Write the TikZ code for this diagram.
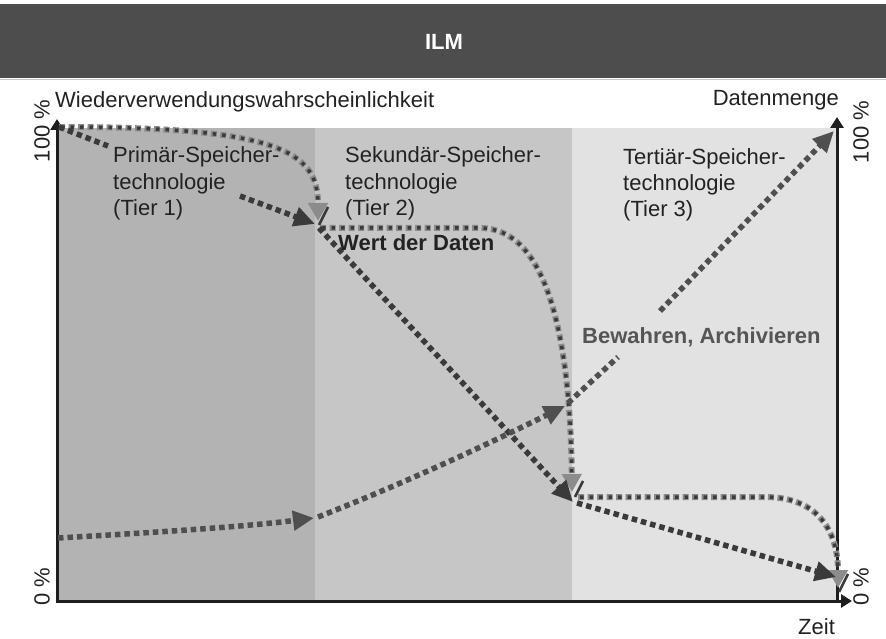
\documentclass[tikz,border=0pt]{standalone}
\usepackage{fontspec}
\setmainfont{Liberation Sans}
\usetikzlibrary{arrows.meta}
\definecolor{titlebg}{HTML}{4D4D4D}
\definecolor{regA}{HTML}{B3B3B3}
\definecolor{regB}{HTML}{C6C6C6}
\definecolor{regC}{HTML}{E2E2E2}
\definecolor{darkline}{HTML}{3A3A3A}
\definecolor{bewline}{HTML}{4F4F4F}
\definecolor{graymid}{HTML}{8A8A8A}
\definecolor{grayarrow}{HTML}{8C8C8C}
\definecolor{axiscol}{HTML}{1E1E1E}
\definecolor{labeltext}{HTML}{222222}
\definecolor{bewtext}{HTML}{555555}
\tikzset{axtip/.tip={Triangle[length=11pt,width=13pt]}}
\begin{document}
\begin{tikzpicture}[x=1pt,y=-1pt,
  lbl/.style={font=\fontsize{22}{26}\selectfont, text=labeltext, inner sep=0pt},
  boldlbl/.style={font=\bfseries\fontsize{22}{26}\selectfont, text=labeltext, inner sep=0pt},
  axisline/.style={draw=axiscol, line width=3pt},
  darkdots/.style={draw=darkline, line width=5.5pt, dash pattern=on 5.5pt off 4pt},
  bewdots/.style={draw=bewline, line width=5.5pt, dash pattern=on 5.5pt off 4pt},
  graydots/.style={draw=graymid, line width=6pt, dash pattern=on 6pt off 3.5pt,
    postaction={draw=darkline, line width=3.5pt, dash pattern=on 3.5pt off 6pt, dash phase=7.5pt, -, shorten >=17pt}},
  darktip/.style={-{Triangle[length=21pt,width=19pt,color=darkline]}},
  bewtip/.style={-{Triangle[length=21pt,width=19pt,color=bewline]}},
  graytip/.style={-{Triangle[length=18pt,width=19pt,color=grayarrow]}},
  shade/.style={draw=darkline, line width=2.5pt}
]
\useasboundingbox (0,0) rectangle (886,639);
\fill[white] (0,0) rectangle (886,639);
% title bar
\fill[titlebg] (0,4) rectangle (886,78);
\draw[regB, line width=1.5pt] (0,79.5) -- (886,79.5);
\node[font=\bfseries\fontsize{22}{26}\selectfont, text=white] (title) at (444,42) {ILM};
% regions
\fill[regA] (57,128) rectangle (315,601);
\fill[regB] (315,128) rectangle (572,601);
\fill[regC] (572,128) rectangle (837,601);
% axes
\coordinate (o) at (57,601);
\coordinate (ytop) at (57,119);
\coordinate (xend) at (852,601);
\coordinate (rbot) at (837,601);
\coordinate (rtop) at (837,117);
\draw[axisline, axtip-axtip] (ytop) -- (o) -- (xend);
\draw[axisline, -axtip] (rbot) -- (rtop);
% key points
\coordinate (p0) at (59,127);
\coordinate (p2) at (573,502);
\coordinate (p3) at (836,577);
% gray curves
\draw[graydots, graytip] (p0) .. controls (275,127) and (318,150) .. (318,221);
\draw[graydots, graytip] (320,228) -- (480,228) .. controls (545,228) and (570,330) .. (572,492);
\draw[graydots, graytip] (578,497) -- (765,497) .. controls (825,497) and (838,540) .. (838,588);
% arrow shadows
\coordinate (s1a) at (328,207); \coordinate (s1b) at (319,225);
\coordinate (s2a) at (583,481); \coordinate (s2b) at (575,497);
\coordinate (s3a) at (848,574); \coordinate (s3b) at (839,592);
\draw[shade] (s1a) -- (s1b);
\draw[shade] (s2a) -- (s2b);
\draw[shade] (s3a) -- (s3b);
% dark curve (Wert der Daten)
\coordinate (a1) at (108,146);
\coordinate (a2) at (240,196);
\draw[darkdots] (p0) -- (a1);
\draw[darkdots, darktip] (a2) -- (315,224);
\draw[darkdots, darktip] (319,228) -- (p2);
\draw[darkdots, darktip] (577,503) -- (p3);
% Bewahren curve
\coordinate (b0) at (58,538);
\coordinate (b1) at (314,518);
\coordinate (b2) at (565,406);
\coordinate (b3) at (618,357);
\coordinate (b4) at (660,311);
\coordinate (b5) at (834,131);
\draw[bewdots, bewtip] (b0) .. controls (180,531) and (250,526) .. (b1);
\draw[bewdots, bewtip] (318,517) .. controls (400,485) and (480,448) .. (b2);
\draw[bewdots] (568,403) -- (b3);
\draw[bewdots, bewtip] (b4) -- (b5);
% labels
\node[lbl, anchor=base west] (ylab) at (55,108) {Wiederverwendungswahrscheinlichkeit};
\node[lbl, anchor=base east] (rlab) at (839,106) {Datenmenge};
\node[lbl, anchor=base west] (tlab) at (798,634) {Zeit};
\node[lbl, rotate=90] (l100) at (42,131) {100 \%};
\node[lbl, rotate=90] (l0) at (42,587) {0 \%};
\node[lbl, rotate=90] (r100) at (861,132) {100 \%};
\node[lbl, rotate=90] (r0) at (861,587) {0 \%};
\node[lbl, align=left, anchor=base west] (tier1) at (113,215) {Primär-Speicher-\\technologie\\(Tier 1)};
\node[lbl, align=left, anchor=base west] (tier2) at (345,215) {Sekundär-Speicher-\\technologie\\(Tier 2)};
\node[lbl, align=left, anchor=base west] (tier3) at (623,217) {Tertiär-Speicher-\\technologie\\(Tier 3)};
\node[boldlbl, anchor=base west] (wert) at (338,251) {Wert der Daten};
\node[boldlbl, text=bewtext, anchor=base west] (bew) at (582,343) {Bewahren, Archivieren};
\end{tikzpicture}
\end{document}
